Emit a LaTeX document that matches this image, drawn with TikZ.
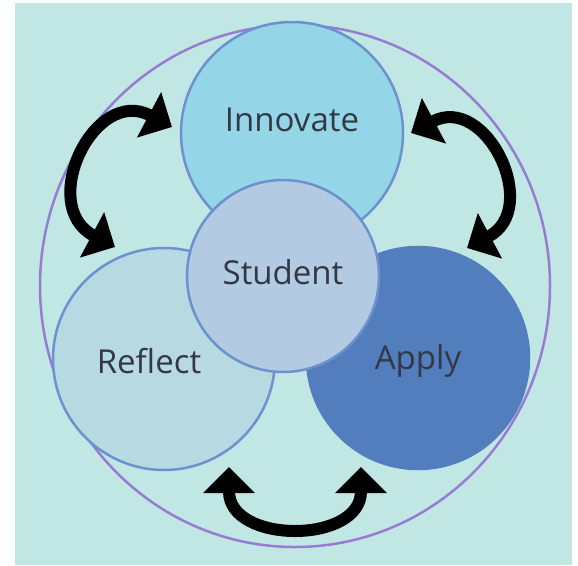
\documentclass[tikz,border=0pt]{standalone}
\usepackage{fontspec}
\setmainfont{Open Sans}
\usepackage{xcolor}
\usepackage{tikz}
\usetikzlibrary{positioning}
\usetikzlibrary{shapes, arrows.meta}

\definecolor{bgteal}{HTML}{C1E7E5}
\definecolor{ringline}{HTML}{6C91CE}
\definecolor{outerline}{HTML}{967DD2}
\definecolor{innfill}{HTML}{94D6E8}
\definecolor{stufill}{HTML}{B2CBE2}
\definecolor{refill}{HTML}{B7D9E2}
\definecolor{appfill}{HTML}{537EBE}
\definecolor{txtgrey}{HTML}{333844}

\begin{document}
\begin{tikzpicture}[
    x=1pt, y=1pt,% one unit = one pixel of the picture
       ring/.style = {circle, draw=ringline, line width=2.5pt, minimum size=222pt, inner sep=0pt},% big circles
        lbl/.style = {font=\fontsize{33}{40}\selectfont, text=txtgrey},% circle labels
        cyc/.style = {line width=12pt, {Triangle[width=50pt,length=26pt]}-{Triangle[width=50pt,length=26pt]}}% double arrows
    ]
    \useasboundingbox (0,0) rectangle (578,-565);
    \fill[bgteal] (15,-3) rectangle (572,-565);
    \draw[outerline, line width=2.5pt] (295,-286) ellipse [x radius=255, y radius=261];
    % outer circles
    \node (inn) [ring, fill=innfill, label={[lbl, yshift=13pt]center:Innovate}] at (292,-133) {};
    \node (refl) [ring, fill=refill, label={[lbl, xshift=-15pt, yshift=-2pt]center:Reflect}] at (164,-359) {};
    \node (app) [ring, fill=appfill, draw=appfill, label={[lbl, yshift=-3pt]center:Apply}] at (418,-358) {};
    % centre
    \node (stu) [ring, fill=stufill, minimum size=192pt, label={[lbl, yshift=4pt]center:Student}] at (283,-276) {};
    % arrows between the circles
    \coordinate (inn-l) at (172,-127);
    \coordinate (refl-t) at (115,-247);
    \coordinate (inn-r) at (411,-133);
    \coordinate (app-t) at (467,-248);
    \coordinate (refl-b) at (229,-467);
    \coordinate (app-b) at (361,-467);
    \draw[cyc] (inn-l) to[out=152, in=152, looseness=1.7] (refl-t);
    \draw[cyc] (inn-r) to[out=28, in=28, looseness=1.7] (app-t);
    \draw[cyc] (refl-b) to[out=-90, in=-90, looseness=1.5] (app-b);
\end{tikzpicture}
\end{document}
